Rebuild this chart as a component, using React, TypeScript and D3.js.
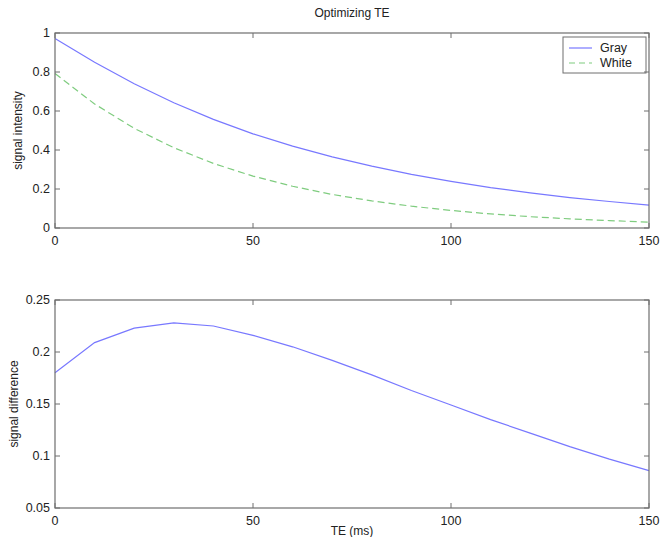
import React from "react";
import * as d3 from "d3";

const te = [0, 10, 20, 30, 40, 50, 60, 70, 80, 90, 100, 110, 120, 130, 140, 150];
const gray = [0.972, 0.85, 0.74, 0.642, 0.557, 0.483, 0.42, 0.365, 0.317, 0.275, 0.239, 0.207, 0.18, 0.156, 0.136, 0.117];
const white = [0.792, 0.636, 0.511, 0.412, 0.331, 0.266, 0.214, 0.172, 0.139, 0.112, 0.09, 0.072, 0.058, 0.047, 0.038, 0.03];
const diff = [0.18, 0.209, 0.223, 0.228, 0.225, 0.216, 0.205, 0.192, 0.178, 0.163, 0.149, 0.135, 0.122, 0.109, 0.097, 0.086];
const xTicks = [0, 50, 100, 150];
const yTicksTop = [0, 0.2, 0.4, 0.6, 0.8, 1];
const yTicksBottom = [0.05, 0.1, 0.15, 0.2, 0.25];
const seriesNames = ["Gray", "White"];

const FONT = "Liberation Sans, Arial, sans-serif";
const AXIS = "#6e6e6e";
const BLUE = "#7878ff";
const GREEN = "#7fcc7f";

function Panel({ top, bottom, yDomain, yTicks, yFmt, ylabel, labelX, children }: any) {
  const x = d3.scaleLinear().domain([0, 150]).range([55, 649]);
  const y = d3.scaleLinear().domain(yDomain).range([bottom, top]);
  const tl = 5;
  return (
    <g>
      <rect x={55} y={top} width={594} height={bottom - top} fill="#fff" stroke="none" />
      {children(x, y)}
      <rect x={55} y={top} width={594} height={bottom - top} fill="none" stroke={AXIS} strokeWidth={1.2} />
      {xTicks.map((t) => (
        <g key={"x" + t}>
          <line x1={x(t)} x2={x(t)} y1={bottom} y2={bottom - tl} stroke={AXIS} />
          <line x1={x(t)} x2={x(t)} y1={top} y2={top + tl} stroke={AXIS} />
          <text x={x(t)} y={bottom + 17} textAnchor="middle" fontSize={12.5} fontFamily={FONT} fill="#222">
            {t}
          </text>
        </g>
      ))}
      {yTicks.map((t: number) => (
        <g key={"y" + t}>
          <line x1={55} x2={55 + tl} y1={y(t)} y2={y(t)} stroke={AXIS} />
          <line x1={649} x2={649 - tl} y1={y(t)} y2={y(t)} stroke={AXIS} />
          <text x={50} y={y(t) + 4} textAnchor="end" fontSize={12.5} fontFamily={FONT} fill="#222">
            {yFmt(t)}
          </text>
        </g>
      ))}
      <text
        transform={`translate(${labelX},${(top + bottom) / 2}) rotate(-90)`}
        textAnchor="middle"
        fontSize={12}
        fontFamily={FONT}
        fill="#222"
      >
        {ylabel}
      </text>
    </g>
  );
}

export default function App() {
  const line = (x: any, y: any, vals: number[]) =>
    d3
      .line<number>()
      .x((_, i) => x(te[i]))
      .y((v) => y(v))(vals) as string;
  return (
    <svg width={662} height={537} style={{ position: "absolute", left: 0, top: 0, background: "#fff" }}>
      <rect width={662} height={537} fill="#fff" />
      <text x={352} y={17} textAnchor="middle" fontSize={12} fontFamily={FONT} fill="#222">
        Optimizing TE
      </text>
      <Panel
        top={33}
        bottom={228}
        yDomain={[0, 1]}
        yTicks={yTicksTop}
        yFmt={(t: number) => d3.format("~g")(t)}
        ylabel="signal intensity"
        labelX={22}
      >
        {(x: any, y: any) => (
          <g>
            <path d={line(x, y, gray)} fill="none" stroke={BLUE} strokeWidth={1.2} />
            <path d={line(x, y, white)} fill="none" stroke={GREEN} strokeWidth={1.2} strokeDasharray="7,4" />
            <rect x={563} y={37} width={83} height={36} fill="#fff" stroke={AXIS} strokeWidth={1} />
            <line x1={569} x2={592} y1={48} y2={48} stroke={BLUE} strokeWidth={1.2} />
            <line x1={569} x2={592} y1={63} y2={63} stroke={GREEN} strokeWidth={1.2} strokeDasharray="6,4" />
            <text x={600} y={52} fontSize={12.5} fontFamily={FONT} fill="#222">
              {seriesNames[0]}
            </text>
            <text x={600} y={67} fontSize={12.5} fontFamily={FONT} fill="#222">
              {seriesNames[1]}
            </text>
          </g>
        )}
      </Panel>
      <Panel
        top={300}
        bottom={508}
        yDomain={[0.05, 0.25]}
        yTicks={yTicksBottom}
        yFmt={(t: number) => d3.format("~g")(t)}
        ylabel="signal difference"
        labelX={18}
      >
        {(x: any, y: any) => <path d={line(x, y, diff)} fill="none" stroke={BLUE} strokeWidth={1.2} />}
      </Panel>
      <text x={352} y={535} textAnchor="middle" fontSize={12} fontFamily={FONT} fill="#222">
        TE (ms)
      </text>
    </svg>
  );
}
